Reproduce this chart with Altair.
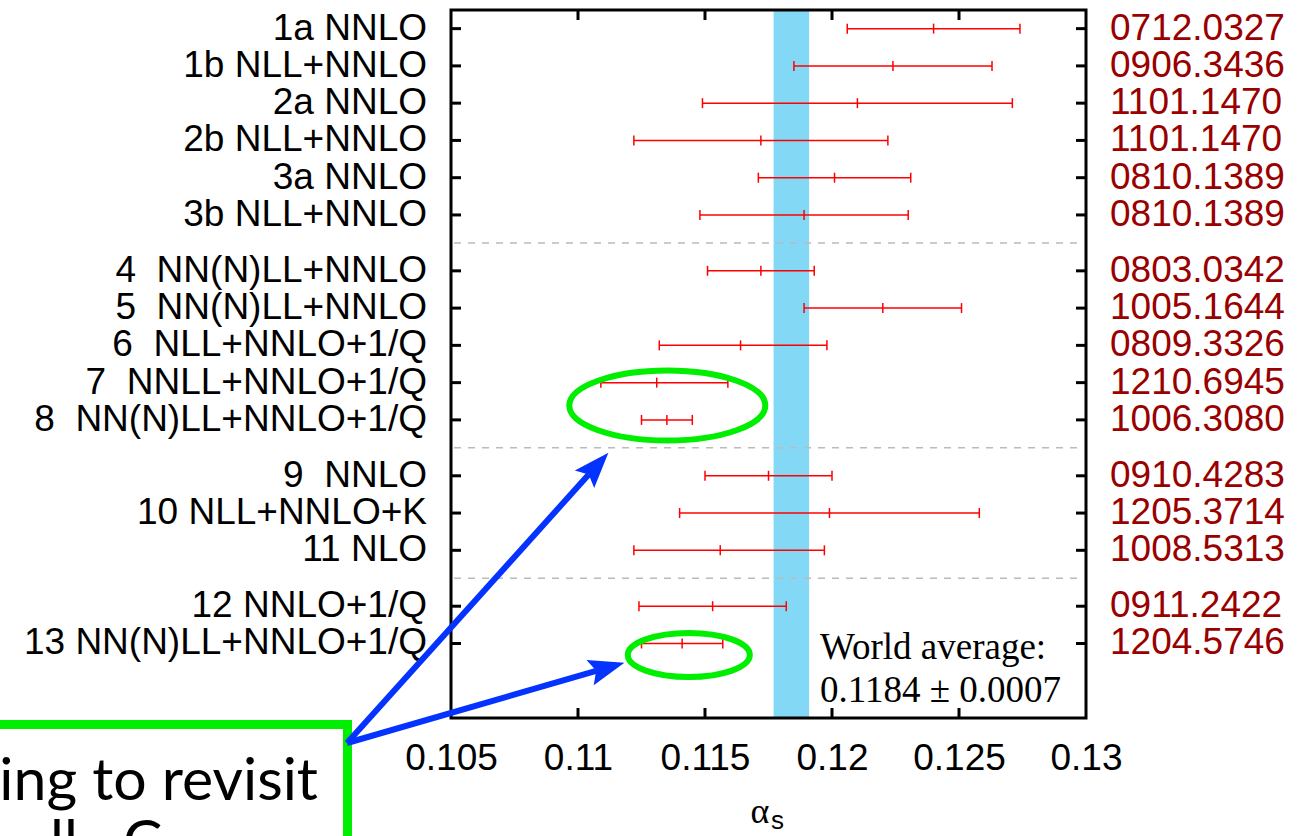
import math
import altair as alt
import pandas as pd

# ---------------- data ----------------
labels = [
    "1a NNLO", "1b NLL+NNLO", "2a NNLO", "2b NLL+NNLO", "3a NNLO", "3b NLL+NNLO",
    "4\u00a0 NN(N)LL+NNLO", "5\u00a0 NN(N)LL+NNLO", "6\u00a0 NLL+NNLO+1/Q",
    "7\u00a0 NNLL+NNLO+1/Q", "8\u00a0 NN(N)LL+NNLO+1/Q",
    "9\u00a0 NNLO", "10 NLL+NNLO+K", "11 NLO",
    "12 NNLO+1/Q", "13 NN(N)LL+NNLO+1/Q",
]
arxiv = [
    "0712.0327", "0906.3436", "1101.1470", "1101.1470", "0810.1389", "0810.1389",
    "0803.0342", "1005.1644", "0809.3326", "1210.6945", "1006.3080",
    "0910.4283", "1205.3714", "1008.5313",
    "0911.2422", "1204.5746",
]
central = [0.1240, 0.1224, 0.1210, 0.1172, 0.1201, 0.1189,
           0.1172, 0.1220, 0.1164, 0.1131, 0.1135,
           0.1175, 0.1199, 0.1156,
           0.1153, 0.1141]
err_minus = [0.0034, 0.0039, 0.0061, 0.0050, 0.0030, 0.0041,
             0.0021, 0.0031, 0.0032, 0.0022, 0.0010,
             0.0025, 0.0059, 0.0034,
             0.0029, 0.0016]
err_plus = [0.0034, 0.0039, 0.0061, 0.0050, 0.0030, 0.0041,
            0.0021, 0.0031, 0.0034, 0.0028, 0.0010,
            0.0025, 0.0059, 0.0041,
            0.0029, 0.0016]
group_sizes = [6, 5, 3, 2]
x_ticks = [0.105, 0.11, 0.115, 0.12, 0.125, 0.13]
WORLD_AVG = 0.1184
WORLD_ERR = 0.0007

# ---------------- layout ----------------
W, H = 635, 708
GAP = 1.5
FONT = "Liberation Sans"
SERIF = "Liberation Serif"
RED = "#FF0000"
DARKRED = "#990000"
BAND = "#82D8F5"
GREEN = "#00EE00"
BLUE = "#0433FF"

pos, seps = [], []
p = 0.0
for gi, n in enumerate(group_sizes):
    if gi > 0:
        seps.append(p - 1 + GAP / 2)
        p = p - 1 + GAP
    for _ in range(n):
        pos.append(p)
        p += 1

df = pd.DataFrame({
    "label": labels,
    "arxiv": arxiv,
    "val": central,
    "lo": [c - m for c, m in zip(central, err_minus)],
    "hi": [c + e for c, e in zip(central, err_plus)],
    "pos": pos,
})

xs = alt.Scale(domain=[x_ticks[0], x_ticks[-1]], nice=False, zero=False)
ys = alt.Scale(domain=[-0.5, 18.5], nice=False, zero=False, reverse=True)
xax = alt.Axis(values=x_ticks, format=".3~f", ticks=False, domain=False, grid=False,
               labelFont=FONT, labelFontSize=37, labelColor="black", labelPadding=22,
               labelFlush=False, labelOverlap=False, labelBound=False)


def X(f):
    return alt.X(f"{f}:Q", scale=xs, axis=xax, title=None)


def Y(f):
    return alt.Y(f"{f}:Q", scale=ys, axis=None)


layers = []

# world average band
band_df = pd.DataFrame({"lo": [WORLD_AVG - WORLD_ERR], "hi": [WORLD_AVG + WORLD_ERR]})
layers.append(alt.Chart(band_df).mark_rect(color=BAND).encode(
    x=X("lo"), x2=alt.X2("hi"), y=alt.value(0), y2=alt.value(H)))

# group separators
layers.append(alt.Chart(pd.DataFrame({"sep": seps})).mark_rule(
    color="#BBBBBB", strokeWidth=1.5, strokeDash=[7, 7]).encode(
    y=Y("sep"), x=alt.value(3), x2=alt.value(W - 3)))

# error bars
base = alt.Chart(df)
layers.append(base.mark_rule(color=RED, strokeWidth=1.5).encode(
    x=X("lo"), x2=alt.X2("hi"), y=Y("pos")))
for f in ["lo", "hi", "val"]:
    layers.append(base.mark_tick(orient="vertical", color=RED, size=10, thickness=1.5,
                                 opacity=1).encode(x=X(f), y=Y("pos")))

# inward row ticks left/right
layers.append(base.mark_rule(color="black", strokeWidth=3).encode(
    y=Y("pos"), x=alt.value(0), x2=alt.value(10)))
layers.append(base.mark_rule(color="black", strokeWidth=3).encode(
    y=Y("pos"), x=alt.value(W), x2=alt.value(W - 10)))

# inward x ticks top/bottom
xt = alt.Chart(pd.DataFrame({"t": x_ticks[1:-1]}))
layers.append(xt.mark_rule(color="black", strokeWidth=3).encode(
    x=X("t"), y=alt.value(H), y2=alt.value(H - 10)))
layers.append(xt.mark_rule(color="black", strokeWidth=3).encode(
    x=X("t"), y=alt.value(0), y2=alt.value(10)))

# row labels
layers.append(base.mark_text(align="right", baseline="middle", font=FONT, fontSize=37,
                             color="black").encode(
    x=alt.value(-24), y=Y("pos"), text="label:N"))
layers.append(base.mark_text(align="left", baseline="middle", font=FONT, fontSize=37,
                             color=DARKRED).encode(
    x=alt.value(W + 24), y=Y("pos"), text="arxiv:N"))

# frame
layers.append(alt.Chart(band_df).mark_rect(filled=False, stroke="black", strokeWidth=3).encode(
    x=alt.value(0), x2=alt.value(W), y=alt.value(0), y2=alt.value(H)))

# world average text
layers.append(alt.Chart(band_df).mark_text(
    text="World average:", align="left", baseline="alphabetic", font=SERIF, fontSize=37,
    color="black").encode(x=alt.value(369), y=alt.value(649)))
layers.append(alt.Chart(band_df).mark_text(
    text=f"{WORLD_AVG:.4f} \u00b1 {WORLD_ERR:.4f}", align="left", baseline="alphabetic",
    font=SERIF, fontSize=37, color="black").encode(x=alt.value(369), y=alt.value(692)))

# x title alpha_s
layers.append(alt.Chart(band_df).mark_text(
    text="\u03b1", align="center", baseline="alphabetic", font=SERIF, fontSize=36,
    color="black").encode(x=alt.value(309), y=alt.value(813)))
layers.append(alt.Chart(band_df).mark_text(
    text="s", align="left", baseline="alphabetic", font=FONT, fontSize=26,
    color="black").encode(x=alt.value(320), y=alt.value(819)))

# ---------------- annotations ----------------
# green box with text (partly off-page, as in the reference)
layers.append(alt.Chart(band_df).mark_rect(fill="white", stroke=GREEN, strokeWidth=9).encode(
    x=alt.value(-480), x2=alt.value(-103.5), y=alt.value(714.5), y2=alt.value(920)))
layers.append(alt.Chart(band_df).mark_text(
    text="ing to revisit", align="right", baseline="alphabetic", font="Lato", fontSize=59,
    color="black").encode(x=alt.value(-133), y=alt.value(790)))
layers.append(alt.Chart(band_df).mark_text(
    text="ll", align="left", baseline="alphabetic", font="Lato", fontSize=59,
    color="black").encode(x=alt.value(-401), y=alt.value(852)))
layers.append(alt.Chart(band_df).mark_text(
    text="C", align="left", baseline="alphabetic", font="Lato", fontSize=59,
    color="black").encode(x=alt.value(-328), y=alt.value(852)))

# green ellipses
ellipses = [(216.3, 395.5, 98, 35), (237.8, 645, 61, 22)]
for cx, cy, hw, hh in ellipses:
    r = hh / hw
    path = f"M-1,0A1,{r:.4f} 0 1,0 1,0A1,{r:.4f} 0 1,0 -1,0Z"
    layers.append(alt.Chart(band_df).mark_point(
        shape=path, size=(2 * hw) ** 2, filled=False, color=GREEN, strokeWidth=6,
        opacity=1).encode(x=alt.value(cx), y=alt.value(cy)))

# blue arrows
tail = (-104, 733)
tips = [(157.4, 442.7), (173.4, 652.7)]
s = 21.0
head = "M0,-1L0.62,0.7L0,0.4L-0.62,0.7Z"
for tx, ty in tips:
    dx, dy = tx - tail[0], ty - tail[1]
    L = math.hypot(dx, dy)
    ux, uy = dx / L, dy / L
    ex, ey = tx - ux * s * 1.4, ty - uy * s * 1.4
    layers.append(alt.Chart(band_df).mark_rule(color=BLUE, strokeWidth=6).encode(
        x=alt.value(tail[0]), y=alt.value(tail[1]), x2=alt.value(ex), y2=alt.value(ey)))
    ang = math.degrees(math.atan2(ux, -uy)) % 360
    layers.append(alt.Chart(band_df).mark_point(
        shape=head, size=(2 * s) ** 2, filled=True, color=BLUE, angle=ang, opacity=1,
        strokeWidth=0).encode(x=alt.value(tx - ux * s), y=alt.value(ty - uy * s)))

chart = alt.layer(*layers).properties(
    width=W, height=H,
    padding={"left": 451, "top": 10, "right": 214, "bottom": 118},
    autosize=alt.AutoSizeParams(type="none"),
).configure_view(strokeWidth=0)

chart.save("out.html", embed_options={"renderer": "svg", "actions": False})
